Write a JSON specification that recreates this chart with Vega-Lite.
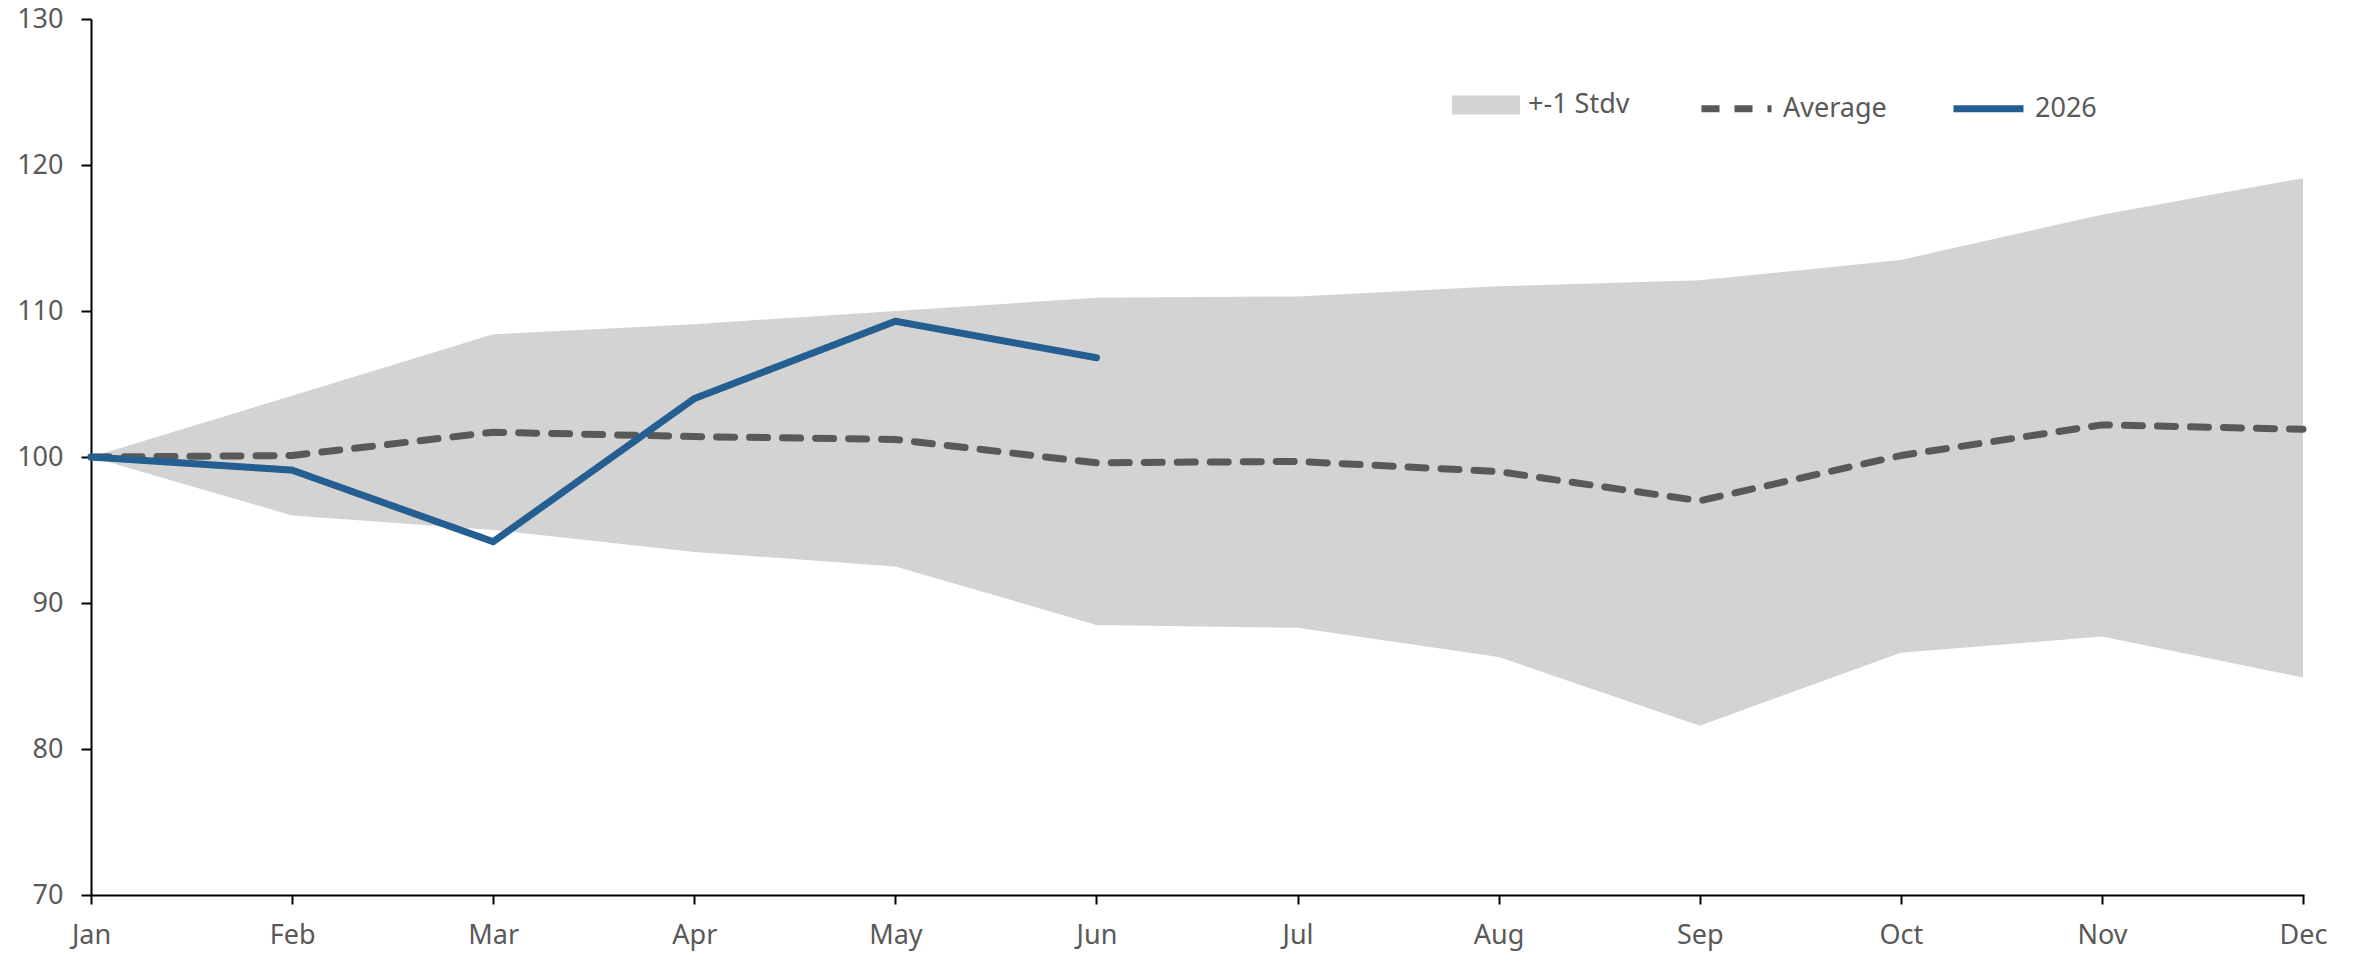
{
  "$schema": "https://vega.github.io/schema/vega-lite/v6.json",
  "width": 2212,
  "height": 876,
  "autosize": {"type": "none"},
  "padding": {"left": 91, "top": 19, "right": 51, "bottom": 58},
  "background": "white",
  "config": {
    "view": {"stroke": null},
    "font": "Noto Sans",
    "axis": {
      "labelFont": "Noto Sans",
      "labelFontSize": 27,
      "labelColor": "#595959",
      "domainColor": "#000000",
      "domainWidth": 2,
      "tickColor": "#000000",
      "tickWidth": 2,
      "grid": false,
      "title": null
    },
    "legend": {
      "labelFont": "Noto Sans",
      "labelFontSize": 27,
      "labelColor": "#595959",
      "padding": 0,
      "title": null
    }
  },
  "data": {
    "values": [
      {"month": "Jan", "lower": 100, "upper": 100, "Average": 100, "2026": 100},
      {"month": "Feb", "lower": 96.0, "upper": 104.2, "Average": 100.1, "2026": 99.1},
      {"month": "Mar", "lower": 95.0, "upper": 108.4, "Average": 101.7, "2026": 94.2},
      {"month": "Apr", "lower": 93.5, "upper": 109.1, "Average": 101.4, "2026": 104.0},
      {"month": "May", "lower": 92.5, "upper": 110.0, "Average": 101.2, "2026": 109.3},
      {"month": "Jun", "lower": 88.5, "upper": 110.9, "Average": 99.6, "2026": 106.8},
      {"month": "Jul", "lower": 88.3, "upper": 111.0, "Average": 99.7, "2026": null},
      {"month": "Aug", "lower": 86.3, "upper": 111.7, "Average": 99.0, "2026": null},
      {"month": "Sep", "lower": 81.6, "upper": 112.1, "Average": 97.0, "2026": null},
      {"month": "Oct", "lower": 86.6, "upper": 113.5, "Average": 100.1, "2026": null},
      {"month": "Nov", "lower": 87.7, "upper": 116.6, "Average": 102.2, "2026": null},
      {"month": "Dec", "lower": 84.9, "upper": 119.1, "Average": 101.9, "2026": null}
    ]
  },
  "encoding": {
    "x": {
      "field": "month",
      "type": "ordinal",
      "sort": ["Jan","Feb","Mar","Apr","May","Jun","Jul","Aug","Sep","Oct","Nov","Dec"],
      "scale": {"type": "point", "padding": 0},
      "axis": {"labelAngle": 0, "tickSize": 9, "labelPadding": 18, "domainCap": "square"}
    }
  },
  "layer": [
    {
      "mark": {"type": "area", "opacity": 1},
      "encoding": {
        "y": {
          "field": "lower",
          "type": "quantitative",
          "scale": {"domain": [70, 130], "nice": false, "zero": false},
          "axis": {"values": [70, 80, 90, 100, 110, 120, 130], "tickSize": 10, "labelPadding": 18}
        },
        "y2": {"field": "upper"},
        "fill": {
          "datum": "+-1 Stdv",
          "type": "nominal",
          "scale": {"domain": ["+-1 Stdv"], "range": ["#D3D3D3"]},
          "legend": {
            "orient": "none",
            "legendX": 1361,
            "legendY": 52,
            "symbolType": "M-1,-0.28L1,-0.28L1,0.28L-1,0.28Z",
            "symbolSize": 4624,
            "symbolStrokeWidth": 0,
            "symbolOpacity": 1,
            "labelOffset": 8
          }
        }
      }
    },
    {
      "transform": [
        {"fold": ["Average", "2026"], "as": ["series", "value"]},
        {"filter": "datum.series === 'Average'"}
      ],
      "mark": {"type": "line", "strokeWidth": 7, "strokeCap": "round", "strokeJoin": "round"},
      "encoding": {
        "y": {"field": "value", "type": "quantitative"},
        "stroke": {
          "field": "series",
          "type": "nominal",
          "scale": {"domain": ["Average", "2026"], "range": ["#595959", "#255E91"]},
          "legend": {
            "orient": "none",
            "direction": "horizontal",
            "legendX": 1607,
            "legendY": 51,
            "symbolType": "stroke",
            "symbolSize": 4900,
            "symbolStrokeWidth": 7,
            "labelOffset": 8,
            "columnPadding": 52
          }
        },
        "strokeDash": {
          "field": "series",
          "type": "nominal",
          "scale": {"domain": ["Average", "2026"], "range": [[18, 15], [1, 0]]}
        }
      }
    },
    {
      "transform": [
        {"fold": ["Average", "2026"], "as": ["series", "value"]},
        {"filter": "datum.series === '2026' && isValid(datum.value)"}
      ],
      "mark": {"type": "line", "strokeWidth": 7, "strokeCap": "round", "strokeJoin": "round"},
      "encoding": {
        "y": {"field": "value", "type": "quantitative"},
        "stroke": {"field": "series", "type": "nominal"},
        "strokeDash": {"field": "series", "type": "nominal"}
      }
    }
  ]
}
